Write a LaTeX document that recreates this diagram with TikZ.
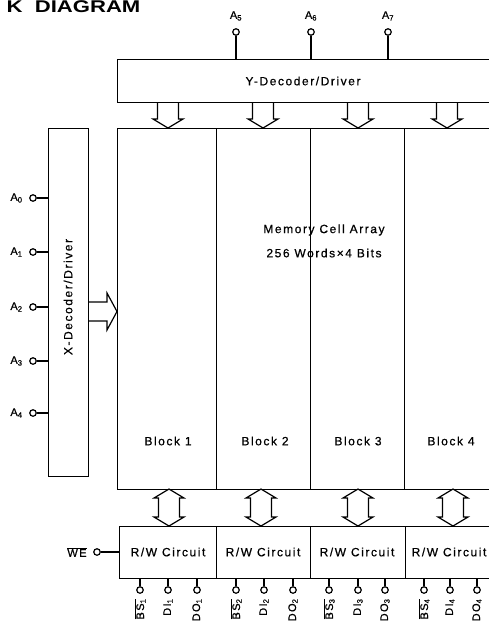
\documentclass[tikz,border=0pt]{standalone}
\usepackage{fontspec}
\setmainfont{Liberation Sans}
\newfontfamily\chipfont[LetterSpace=13, FakeBold=0.6]{Liberation Sans}
\newfontfamily\headfont[FakeStretch=1.3]{Liberation Sans}
\usetikzlibrary{positioning}

\begin{document}
\begin{tikzpicture}[
    x=1pt, y=-1pt, line width=1.2pt,
    blk/.style={draw, line width=1.3pt, anchor=north west, inner sep=0pt},
    txt/.style={font=\chipfont\fontsize{12}{14}\selectfont},
    pin/.style={draw, circle, inner sep=0pt, minimum size=6.5pt, fill=white},
    pinlbl/.style={font=\chipfont\fontsize{11}{12}\selectfont, inner sep=0pt},
    hollow/.style={draw, line width=1.2pt, line join=miter}
  ]
    \useasboundingbox (0,0) rectangle (489,621);
    \clip (0,0) rectangle (489,621);

    \node[font=\headfont\bfseries\fontsize{17}{18}\selectfont, anchor=west, inner sep=0pt] (title) at (6,7) {K\ \ DIAGRAM};

    % decoders
    \node[blk, minimum width=380pt, minimum height=43pt] (ydec) at (117,59) {};
    \node[txt] (ydectxt) at (303,81) {Y-Decoder/Driver};
    \node[blk, minimum width=40pt, minimum height=348pt] (xdec) at (48,128) {};
    \node[txt, rotate=90] (xdectxt) at (68,297) {X-Decoder/Driver};

    % memory cell array
    \node[blk, minimum width=99pt, minimum height=361pt] (mem1) at (117,128) {};
    \node[blk, minimum width=94pt, minimum height=361pt] (mem2) at (216,128) {};
    \node[blk, minimum width=94pt, minimum height=361pt] (mem3) at (310,128) {};
    \node[blk, minimum width=94pt, minimum height=361pt] (mem4) at (404,128) {};
    \foreach \i/\x in {1/168,2/265,3/358,4/451}
      \node[txt] (blklbl\i) at (\x,441) {Block \i};
    \node[txt] (memtxt) at (324,230) {Memory Cell Array};
    \node[txt] (memsize) at (324,253) {256 Words×4 Bits};

    % read/write circuits
    \node[blk, minimum width=97pt, minimum height=52pt] (rw1) at (119,526) {};
    \node[blk, minimum width=94pt, minimum height=52pt] (rw2) at (216,526) {};
    \node[blk, minimum width=95pt, minimum height=52pt] (rw3) at (310,526) {};
    \node[blk, minimum width=94pt, minimum height=52pt] (rw4) at (405,526) {};
    \foreach \i/\x in {1/168,2/263,3/357,4/449}
      \node[txt] (rwtxt\i) at (\x,552) {R/W Circuit};

    % hollow bus arrows
    \foreach \x in {168,263,358,447}
      \draw[hollow] ({\x-10.5},102) -- ({\x-10.5},119) -- ({\x-15},119) -- (\x,128)
        -- ({\x+15},119) -- ({\x+10.5},119) -- ({\x+10.5},102);
    \foreach \x in {169,261,358,453}
      \draw[hollow] (\x,489) -- ({\x+15},498) -- ({\x+10.5},498) -- ({\x+10.5},517)
        -- ({\x+15},517) -- (\x,526) -- ({\x-15},517) -- ({\x-10.5},517)
        -- ({\x-10.5},498) -- ({\x-15},498) -- cycle;
    \draw[hollow] (88,302) -- (107,302) -- (107,293) -- (117,311.5) -- (107,330)
      -- (107,321) -- (88,321);

    % address inputs
    \foreach \n/\x in {5/236,6/311,7/388} {
      \node[pin] (a\n) at (\x,32) {};
      \node[pinlbl, above=7pt of a\n] {A\textsubscript{\n}};
      \draw (a\n) -- (a\n |- ydec.north);
    }
    \foreach \n/\y in {0/198,1/252,2/307,3/361,4/413} {
      \node[pin] (a\n) at (33,\y) {};
      \node[pinlbl, left=6pt of a\n] {A\textsubscript{\n}};
      \draw (a\n) -- (a\n -| xdec.west);
    }

    % write enable
    \node[pin] (we) at (97,552) {};
    \node[pinlbl, left=6pt of we] {$\overline{\hbox{\chipfont\fontsize{11}{12}\selectfont WE}}$};
    \draw (we) -- (we -| rw1.west);

    % data pins
    \foreach \i/\x in {1/140,2/236,3/329,4/424} {
      \node[pin] (bs\i) at (\x,590) {};
      \draw (bs\i) -- (bs\i |- rw\i.south);
      \node[pinlbl, rotate=90, anchor=east] at (\x,598) {$\overline{\hbox{\chipfont\fontsize{11}{12}\selectfont BS\textsubscript{\i}}}$};
    }
    \foreach \i/\x in {1/168,2/264,3/358,4/450} {
      \node[pin] (di\i) at (\x,590) {};
      \draw (di\i) -- (di\i |- rw\i.south);
      \node[pinlbl, rotate=90, anchor=east] at (\x,598) {DI\textsubscript{\i}};
    }
    \foreach \i/\x in {1/197,2/293,3/385,4/477} {
      \node[pin] (do\i) at (\x,590) {};
      \draw (do\i) -- (do\i |- rw\i.south);
      \node[pinlbl, rotate=90, anchor=east] at (\x,598) {DO\textsubscript{\i}};
    }
  \end{tikzpicture}
\end{document}
